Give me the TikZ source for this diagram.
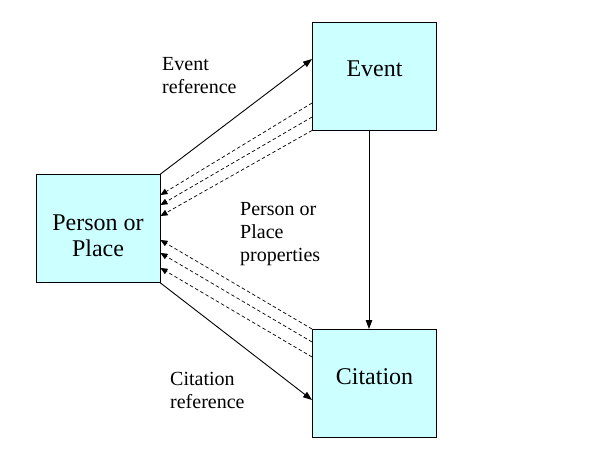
\documentclass[tikz,border=0pt]{standalone}
\usepackage{fontspec}
\setmainfont{Liberation Serif}
\usetikzlibrary{arrows.meta}
\definecolor{boxfill}{HTML}{CCFFFF}
\tikzset{
  entity/.style={draw=black, line width=0.9pt, fill=boxfill, minimum width=124pt, minimum height=108pt, inner sep=0pt},
  boxtext/.style={inner sep=0pt, align=center, font=\fontsize{24}{26}\selectfont},
  lbl/.style={anchor=north west, inner sep=0pt, align=left, font=\fontsize{20}{23}\selectfont},
  solidarrow/.style={line width=0.9pt, -{Triangle[length=9pt,width=6.5pt]}},
  dasharrow/.style={line width=0.7pt, dash pattern=on 3.5pt off 2.5pt, -{Triangle[length=7pt,width=6pt]}}
}
\begin{document}
\begin{tikzpicture}[x=1pt,y=-1pt]
\useasboundingbox (0,0) rectangle (596,463);
\node[entity] (P) at (98,228.5) {};
\node[entity] (E) at (374.5,76) {};
\node[entity] (C) at (374.5,383.5) {};
\node[boxtext] (Pt) at ([yshift=-7pt]P.center) {Person or\\Place};
\node[boxtext] (Et) at ([yshift=7pt]E.center) {Event};
\node[boxtext] (Ct) at ([yshift=7pt]C.center) {Citation};
% solid references
\draw[solidarrow] (P.north east) -- ([yshift=17pt]E.west);
\draw[solidarrow] (P.south east) -- ([yshift=-16.5pt]C.west);
\draw[solidarrow] ([xshift=-5.5pt]E.south) -- ([xshift=-5.5pt]C.north);
% dashed property arrows from Event
\draw[dasharrow] ([yshift=-27pt]E.west) -- ([yshift=33.5pt]P.east);
\draw[dasharrow] ([yshift=-41pt]E.west) -- ([yshift=23.5pt]P.east);
\draw[dasharrow] (E.south west) -- ([yshift=12.5pt]P.east);
% dashed property arrows from Citation
\draw[dasharrow] (C.north west) -- ([yshift=-11.5pt]P.east);
\draw[dasharrow] ([yshift=41.5pt]C.west) -- ([yshift=-24.5pt]P.east);
\draw[dasharrow] ([yshift=26.5pt]C.west) -- ([yshift=-39.5pt]P.east);
% labels
\node[lbl] (l1) at (162,57) {Event\\reference};
\node[lbl] (l2) at (240,202) {Person or\\Place\\properties};
\node[lbl] (l3) at (170,372) {Citation\\reference};
\end{tikzpicture}
\end{document}
